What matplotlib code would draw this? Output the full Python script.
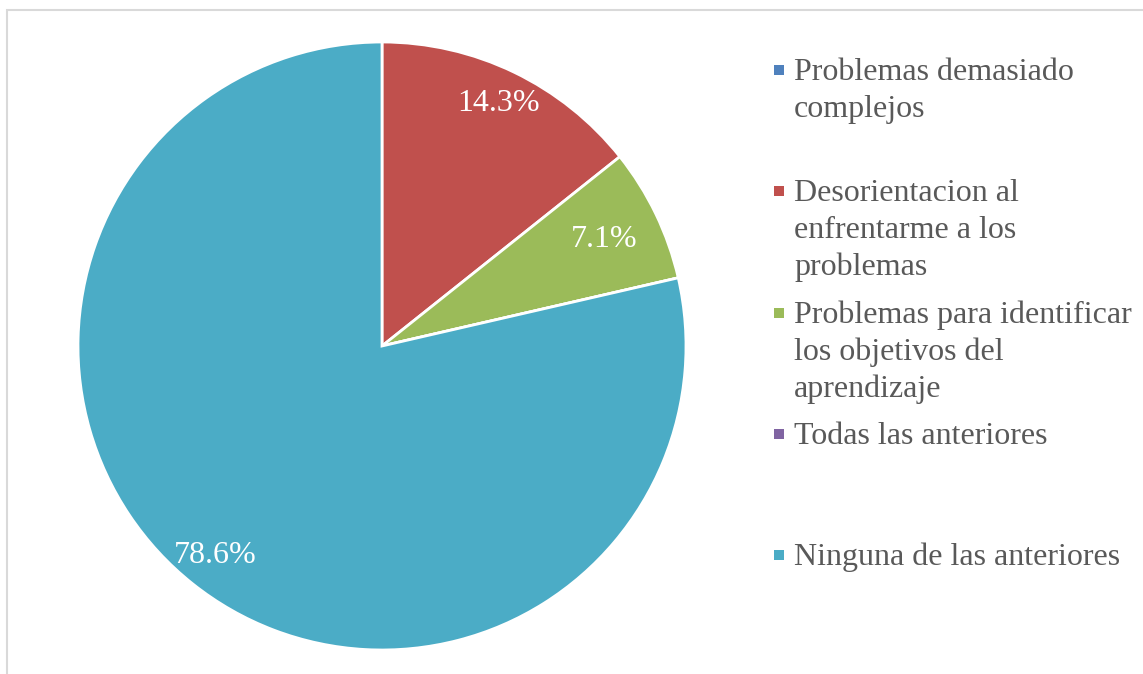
import numpy as np
import matplotlib.pyplot as plt
from matplotlib.patches import Rectangle

plt.rcParams['font.family'] = ['Liberation Serif', 'DejaVu Serif']

categories = ['Problemas demasiado\ncomplejos',
              'Desorientacion al\nenfrentarme a los\nproblemas',
              'Problemas para identificar\nlos objetivos del\naprendizaje',
              'Todas las anteriores',
              'Ninguna de las anteriores']
percent = [0.0, 14.3, 7.1, 0.0, 78.6]
colors = ['#4F81BD', '#C0504D', '#9BBB59', '#8064A2', '#4BACC6']

W, H = 1143, 674
fig = plt.figure(figsize=(W / 100, H / 100), dpi=100)

# light grey chart frame
fig.add_artist(Rectangle((6.5 / W, -0.1), 1.2, 1 - 10.5 / H + 0.1,
                         transform=fig.transFigure, fill=False,
                         edgecolor='#D9D9D9', linewidth=1.5))

ax = fig.add_axes([78 / W, 24 / H, 608 / W, 608 / H])
wedges, _ = ax.pie(percent, colors=colors, startangle=90, counterclock=False,
                   radius=1, wedgeprops=dict(edgecolor='white', linewidth=2))
ax.set_xlim(-1, 1)
ax.set_ylim(-1, 1)

label_r = {1: 0.885, 2: 0.81, 4: 0.88}
for i, w in enumerate(wedges):
    if percent[i] <= 0:
        continue
    ang = np.deg2rad((w.theta1 + w.theta2) / 2)
    r = label_r.get(i, 0.85)
    ax.text(r * np.cos(ang), r * np.sin(ang), f'{percent[i]:.1f}%',
            ha='center', va='center', color='white', fontsize=23)

# legend on the right, one text per line so the first line sits by the square
top = 80
step = 121.3
line_h = 37
for i, lab in enumerate(categories):
    yb = top + i * step
    fig.add_artist(Rectangle((773.5 / W, 1 - (yb - 5) / H), 10 / W, 10 / H,
                             transform=fig.transFigure, facecolor=colors[i],
                             edgecolor='none'))
    for k, line in enumerate(lab.split('\n')):
        fig.text(794 / W, 1 - (yb + k * line_h) / H, line, ha='left',
                 va='baseline', fontsize=23, color='#595959')

fig.savefig('out.png', dpi=100)
